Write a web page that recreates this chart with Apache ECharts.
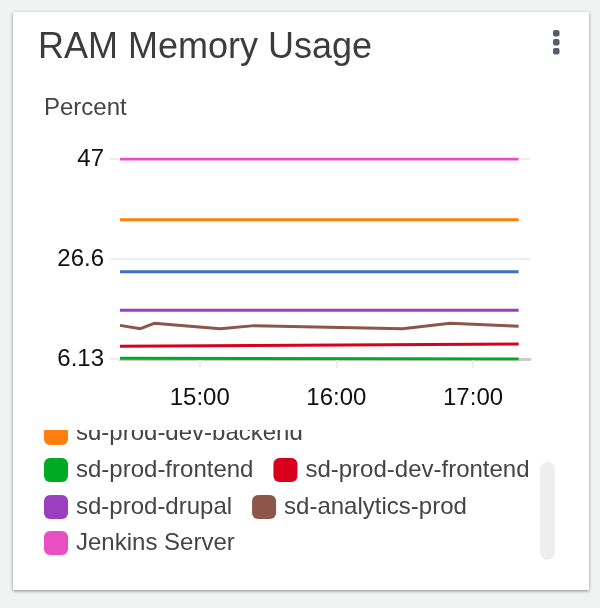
<!DOCTYPE html>
<html>
<head>
<meta charset="utf-8">
<script src="https://cdn.jsdelivr.net/npm/echarts@6/dist/echarts.min.js"></script>
<style>
  html, body { margin: 0; padding: 0; width: 600px; height: 608px; background: #f1f3f2; overflow: hidden; }
  #card { position: absolute; left: 13px; top: 12px; width: 576px; height: 578px; background: #fff;
          box-shadow: 0 1px 3px rgba(0,0,0,0.45); }
  #chart { position: absolute; left: 0; top: 0; width: 600px; height: 608px; }
</style>
</head>
<body>
<div id="card"></div>
<div id="chart"></div>
<script>
// ---- data ----
const chartTitle = 'RAM Memory Usage';
const yAxisTitle = 'Percent';
const timesFull = ['14:25', '14:34', '14:40', '15:09', '15:24', '16:29', '16:50', '17:20'];
const timesEnds = ['14:25', '17:20'];
const xTickTimes = ['15:00', '16:00', '17:00'];
const xRange = ['14:25', '17:25'];
const yMin = 6.13;
const yMax = 47;

const seriesNames = ['sd-prod-backend', 'sd-prod-dev-backend', 'sd-prod-frontend', 'sd-prod-dev-frontend',
                     'sd-prod-drupal', 'sd-analytics-prod', 'Jenkins Server'];
const seriesColors = ['#3d6ec4', '#ff7f0e', '#00ab24', '#d8001c', '#9b3fc1', '#8c564b', '#e84fc2'];
const prodBackend = [23.95, 23.95];
const prodDevBackend = [34.6, 34.6];
const prodFrontend = [6.3, 6.13];
const prodDevFrontend = [8.76, 9.17];
const prodDrupal = [16.1, 16.1];
const analyticsProd = [13.0, 12.33, 13.42, 12.33, 12.95, 12.33, 13.42, 12.81];
const jenkinsServer = [47, 47];

// legend rows as visible (the list is scrolled)
const legendRows = [
  ['sd-prod-dev-backend'],
  ['sd-prod-frontend', 'sd-prod-dev-frontend'],
  ['sd-prod-drupal', 'sd-analytics-prod'],
  ['Jenkins Server']
];

// ---- build ----
function t(hm) { const p = hm.split(':'); return new Date(2024, 0, 1, +p[0], +p[1]).getTime(); }
function pairs(times, vals) { return times.map((tm, i) => [t(tm), vals[i]]); }

const seriesData = [
  pairs(timesEnds, prodBackend),
  pairs(timesEnds, prodDevBackend),
  pairs(timesEnds, prodFrontend),
  pairs(timesEnds, prodDevFrontend),
  pairs(timesEnds, prodDrupal),
  pairs(timesFull, analyticsProd),
  pairs(timesEnds, jenkinsServer)
];

const FONT = "'Liberation Sans', Arial, sans-serif";
const chart = echarts.init(document.getElementById('chart'), null, { renderer: 'canvas' });

const legendRowTops = [421, 458, 495, 531];
const legends = legendRows.map((row, i) => ({
  data: row,
  left: 44,
  top: legendRowTops[i],
  padding: 0,
  orient: 'horizontal',
  itemWidth: 24,
  itemHeight: 24,
  itemGap: 20,
  icon: 'roundRect',
  selectedMode: false,
  textStyle: { fontFamily: FONT, fontSize: 24, color: '#444', padding: [0, 0, 0, 3] }
}));

chart.setOption({
  animation: false,
  backgroundColor: 'transparent',
  color: seriesColors,
  title: [
    { text: chartTitle, left: 38, top: 30, padding: 0,
      textStyle: { fontFamily: FONT, fontSize: 36, fontWeight: 'normal', color: '#3c3c3c' } },
    { text: yAxisTitle, left: 44, top: 96, padding: 0,
      textStyle: { fontFamily: FONT, fontSize: 24, fontWeight: 'normal', color: '#444' } }
  ],
  legend: legends,
  grid: { left: 120, right: 70, top: 159, height: 200, containLabel: false },
  xAxis: {
    type: 'time',
    min: t(xRange[0]),
    max: t(xRange[1]),
    axisLine: { show: true, lineStyle: { color: '#cccccc', width: 3 } },
    axisTick: { show: true, length: 9, lineStyle: { color: '#eeeeee', width: 2 },
                customValues: xTickTimes.map(t) },
    axisLabel: { customValues: xTickTimes.map(t), formatter: '{HH}:{mm}', margin: 27,
                 fontFamily: FONT, fontSize: 24, color: '#111' },
    splitLine: { show: false }
  },
  yAxis: {
    type: 'value',
    min: yMin,
    max: yMax,
    interval: (yMax - yMin) / 2,
    axisLine: { show: false },
    axisTick: { show: true, length: 10, lineStyle: { color: '#eeeeee', width: 2 } },
    splitLine: { show: true, lineStyle: { color: '#eeeeee', width: 2 } },
    axisLabel: { margin: 16, fontFamily: FONT, fontSize: 24, color: '#111', padding: [3, 0, 0, 0],
                 formatter: v => String(Number(v.toPrecision(3))) }
  },
  series: seriesNames.map((name, i) => ({
    name: name,
    type: 'line',
    data: seriesData[i],
    showSymbol: false,
    symbol: 'none',
    lineStyle: { width: 3, color: seriesColors[i] },
    itemStyle: { color: seriesColors[i] },
    z: 3
  })),
  graphic: [
    // mask clipping the scrolled legend list
    { type: 'rect', z: 100, silent: true, shape: { x: 20, y: 413, width: 520, height: 17 }, style: { fill: '#ffffff' } },
    // scrollbar thumb
    { type: 'rect', z: 100, silent: true, shape: { x: 540, y: 462, width: 15, height: 98, r: 7.5 }, style: { fill: '#eeeeee' } },
    // kebab menu
    { type: 'rect', z: 100, silent: true, shape: { x: 553, y: 30, width: 6.5, height: 6.5, r: 2 }, style: { fill: '#585c68' } },
    { type: 'rect', z: 100, silent: true, shape: { x: 553, y: 39, width: 6.5, height: 6.5, r: 2 }, style: { fill: '#585c68' } },
    { type: 'rect', z: 100, silent: true, shape: { x: 553, y: 48, width: 6.5, height: 6.5, r: 2 }, style: { fill: '#585c68' } }
  ]
});
</script>
</body>
</html>
